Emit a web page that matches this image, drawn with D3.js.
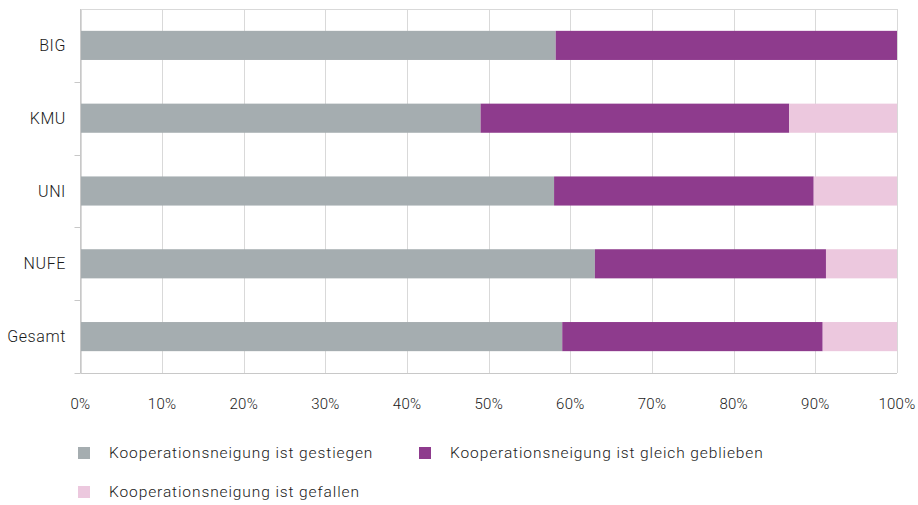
<!DOCTYPE html>
<html>
<head>
<meta charset="utf-8">
<script src="https://cdn.jsdelivr.net/npm/d3@7"></script>
<style>
  body { margin: 0; background: #fff; }
  svg text { font-family: Roboto, "Liberation Sans", sans-serif; font-weight: 300; fill: #1a1a1a; }
</style>
</head>
<body>
<svg id="chart" width="918" height="505"></svg>
<script>
// categories, top to bottom
var categories = ["BIG", "KMU", "UNI", "NUFE", "Gesamt"];
var seriesNames = [
    "Kooperationsneigung ist gestiegen",
    "Kooperationsneigung ist gleich geblieben",
    "Kooperationsneigung ist gefallen"
];
var gestiegen = [58.2, 49.0, 58.0, 63.0, 59.0];
var gleich = [41.8, 37.8, 31.8, 28.3, 31.9];
var gefallen = [0.0, 13.2, 10.2, 8.7, 9.1];
var colors = ["#a5adb0", "#8e3b8d", "#ecc8de"];
var tickValues = [0, 10, 20, 30, 40, 50, 60, 70, 80, 90, 100];

var svg = d3.select("#chart");
var mLeft = 80.5, mRight = 897, mTop = 9, mBottom = 373;

var x = d3.scaleLinear().domain([0, 100]).range([mLeft, mRight]);
var y = d3.scaleBand().domain(categories).range([mTop, mBottom]);

// grid lines
svg.append("g")
    .selectAll("line")
    .data(tickValues)
    .join("line")
    .attr("x1", function (d) { return Math.round(x(d)) + 0.5; })
    .attr("x2", function (d) { return Math.round(x(d)) + 0.5; })
    .attr("y1", mTop)
    .attr("y2", mBottom)
    .attr("stroke", "#d9d9d9")
    .attr("stroke-width", 1);

// top border
svg.append("line")
    .attr("x1", x(0)).attr("x2", x(100))
    .attr("y1", mTop + 0.5).attr("y2", mTop + 0.5)
    .attr("stroke", "#d9d9d9");

// stacked data
var rows = categories.map(function (c, i) {
    return { cat: c, vals: [gestiegen[i], gleich[i], gefallen[i]] };
});
var stack = d3.stack().keys([0, 1, 2]).value(function (d, k) { return d.vals[k]; });
var layers = stack(rows);

var barH = y.bandwidth() * 0.4;
svg.append("g")
    .selectAll("g")
    .data(layers)
    .join("g")
    .attr("fill", function (d, i) { return colors[i]; })
    .selectAll("rect")
    .data(function (d) { return d; })
    .join("rect")
    .attr("x", function (d) { return x(d[0]); })
    .attr("width", function (d) { return x(d[1]) - x(d[0]); })
    .attr("y", function (d) { return y(d.data.cat) + (y.bandwidth() - barH) / 2; })
    .attr("height", barH);

// left axis with ticks at band boundaries
var yAxis = svg.append("g");
yAxis.append("line")
    .attr("x1", mLeft).attr("x2", mLeft)
    .attr("y1", mTop).attr("y2", mBottom)
    .attr("stroke", "#c8c8c8");
yAxis.selectAll("line.tick")
    .data(categories)
    .join("line")
    .attr("class", "tick")
    .attr("x1", mLeft - 6).attr("x2", mLeft)
    .attr("y1", function (d) { return Math.round(y(d) + y.step()) + 0.5; })
    .attr("y2", function (d) { return Math.round(y(d) + y.step()) + 0.5; })
    .attr("stroke", "#c8c8c8");
yAxis.selectAll("text")
    .data(categories)
    .join("text")
    .attr("x", 66)
    .attr("y", function (d) { return y(d) + y.bandwidth() / 2; })
    .attr("dy", "0.35em")
    .attr("text-anchor", "end")
    .style("font-size", "16px")
    .style("letter-spacing", "0.6px")
    .text(function (d) { return d; });

// bottom axis
svg.append("line")
    .attr("x1", mLeft).attr("x2", mRight)
    .attr("y1", mBottom + 0.5).attr("y2", mBottom + 0.5)
    .attr("stroke", "#c8c8c8");
svg.append("g")
    .selectAll("text")
    .data(tickValues)
    .join("text")
    .attr("x", function (d) { return x(d); })
    .attr("y", 409)
    .attr("text-anchor", "middle")
    .style("font-size", "15px")
    .style("letter-spacing", "0.3px")
    .text(function (d) { return d + "%"; });

// legend
var legendPos = [[78, 453], [419, 453], [78, 492]];
var legend = svg.append("g")
    .selectAll("g")
    .data(seriesNames)
    .join("g")
    .attr("transform", function (d, i) { return "translate(" + legendPos[i][0] + "," + legendPos[i][1] + ")"; });
legend.append("rect")
    .attr("x", 0).attr("y", -6)
    .attr("width", 12).attr("height", 12)
    .attr("fill", function (d, i) { return colors[i]; });
legend.append("text")
    .attr("x", 31)
    .attr("dy", "0.35em")
    .style("font-size", "15.5px")
    .style("letter-spacing", "0.9px")
    .text(function (d) { return d; });
</script>
</body>
</html>
